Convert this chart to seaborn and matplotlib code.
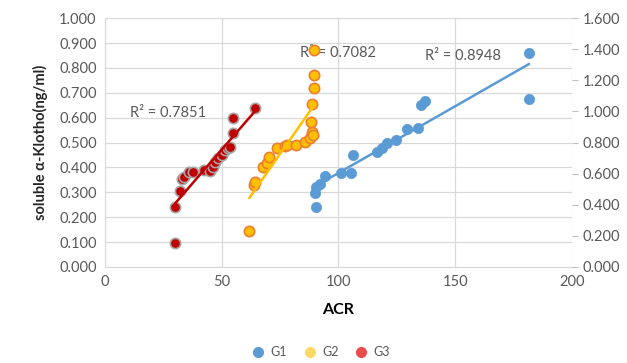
import matplotlib
matplotlib.use("Agg")
import matplotlib.pyplot as plt
from matplotlib.lines import Line2D
import seaborn as sns
import numpy as np

sns.set_style("white")
plt.rcParams['font.family'] = ['Lato', 'DejaVu Sans']

# G3 (red) - left axis
g3_acr = [30, 30, 32.2, 32.9, 33.9, 35.8, 37.9, 42.2, 45, 46.4, 47.2, 48.6, 50, 51.5, 52.9, 53.6, 54.8, 54.8, 64.4]
g3_klotho = [0.098, 0.242, 0.306, 0.352, 0.362, 0.383, 0.383, 0.390, 0.387, 0.403, 0.423, 0.436, 0.450, 0.470, 0.477, 0.483, 0.537, 0.597, 0.637]

# G2 (orange) - left axis
g2_acr = [61.8, 63.7, 64.2, 67.5, 69.4, 70.4, 73.7, 77.3, 78, 81.8, 85.8, 88, 88.7, 89.1, 88.4, 88.7, 89.7, 89.7, 89.7]
g2_klotho = [0.146, 0.330, 0.342, 0.400, 0.419, 0.440, 0.477, 0.486, 0.490, 0.490, 0.503, 0.520, 0.543, 0.530, 0.584, 0.657, 0.720, 0.770, 0.874]

# G1 (blue) - right axis
g1_acr = [90.6, 90.1, 90.6, 92.3, 94.4, 100.9, 105.2, 106.3, 116.6, 118.7, 120.6, 124.5, 129.4, 134, 135.2, 137.3, 181.7, 181.7]
g1_klotho = [0.387, 0.474, 0.515, 0.533, 0.587, 0.602, 0.606, 0.720, 0.741, 0.763, 0.800, 0.814, 0.885, 0.891, 1.042, 1.069, 1.373, 1.080]

r2_labels = ["R\u00b2 = 0.8948", "R\u00b2 = 0.7082", "R\u00b2 = 0.7851"]

fig = plt.figure(figsize=(6.27, 3.63), dpi=100)
ax = fig.add_axes([0.1675, 0.2645, 0.7445, 0.6855])
ax2 = ax.twinx()

# R2 text first so the markers sit on top of it like in the original
ax.text(137, 0.847, r2_labels[0], color='#595959', fontsize=10.5, va='center', zorder=1)
ax.text(83.5, 0.859, r2_labels[1], color='#595959', fontsize=10.5, va='center', zorder=1)
ax.text(10.7, 0.618, r2_labels[2], color='#595959', fontsize=10.5, va='center', zorder=1)

sns.regplot(x=g3_acr, y=g3_klotho, ax=ax, ci=None,
            scatter_kws=dict(s=55, color='#C00000', edgecolor='#A6A6A6', linewidths=1.2, alpha=1, zorder=3),
            line_kws=dict(color='#C00000', lw=1.8, zorder=4))
sns.regplot(x=g2_acr, y=g2_klotho, ax=ax, ci=None,
            scatter_kws=dict(s=55, color='#FFC000', edgecolor='#ED7D31', linewidths=1.2, alpha=1, zorder=3),
            line_kws=dict(color='#FFC000', lw=1.8, zorder=4))
sns.regplot(x=g1_acr, y=g1_klotho, ax=ax2, ci=None,
            scatter_kws=dict(s=55, color='#5B9BD5', edgecolor='#5B9BD5', linewidths=0.5, alpha=1),
            line_kws=dict(color='#5B9BD5', lw=1.8))

ax.set_xlim(0, 200)
ax.set_ylim(0, 1.0)
ax2.set_ylim(0, 1.6)
ax.set_xticks([0, 50, 100, 150, 200])
ax.set_yticks(np.arange(0, 1.01, 0.1))
ax2.set_yticks(np.arange(0, 1.61, 0.2))
ax.set_yticklabels(["%.3f" % v for v in np.arange(0, 1.01, 0.1)])
ax2.set_yticklabels(["%.3f" % v for v in np.arange(0, 1.61, 0.2)])

ax.grid(True, color='#D9D9D9', lw=0.9)
ax.set_axisbelow(True)
for a in (ax, ax2):
    for s in a.spines.values():
        s.set_visible(False)
ax.spines['left'].set_visible(True)
ax.spines['bottom'].set_visible(True)
ax.spines['left'].set_color('#D9D9D9')
ax.spines['bottom'].set_color('#D9D9D9')

ax.tick_params(axis='both', colors='#595959', labelsize=10.5, length=0, pad=6)
ax2.tick_params(axis='y', colors='#595959', labelsize=10.5, length=4, width=0.8, pad=4)
ax2.tick_params(axis='y', color='#BFBFBF')

ax.set_xlabel("ACR", fontsize=11.5, fontweight='bold', color='black', labelpad=10)
ax.set_ylabel("soluble \u03b1-Klotho(ng/ml)", fontsize=10.5, fontweight='bold', color='#262626', labelpad=8)
ax2.set_ylabel("")
ax2.set_xlabel("")

handles = [Line2D([], [], marker='o', ls='', color=c, markersize=7) for c in ['#5B9BD5', '#FFD966', '#E84C4C']]
fig.legend(handles, ['G1', 'G2', 'G3'], loc='center', bbox_to_anchor=(0.507, 0.03), ncol=3,
           frameon=False, fontsize=9, handletextpad=0.0, columnspacing=0.8, labelcolor='#595959')

plt.savefig("out.png", dpi=100)
